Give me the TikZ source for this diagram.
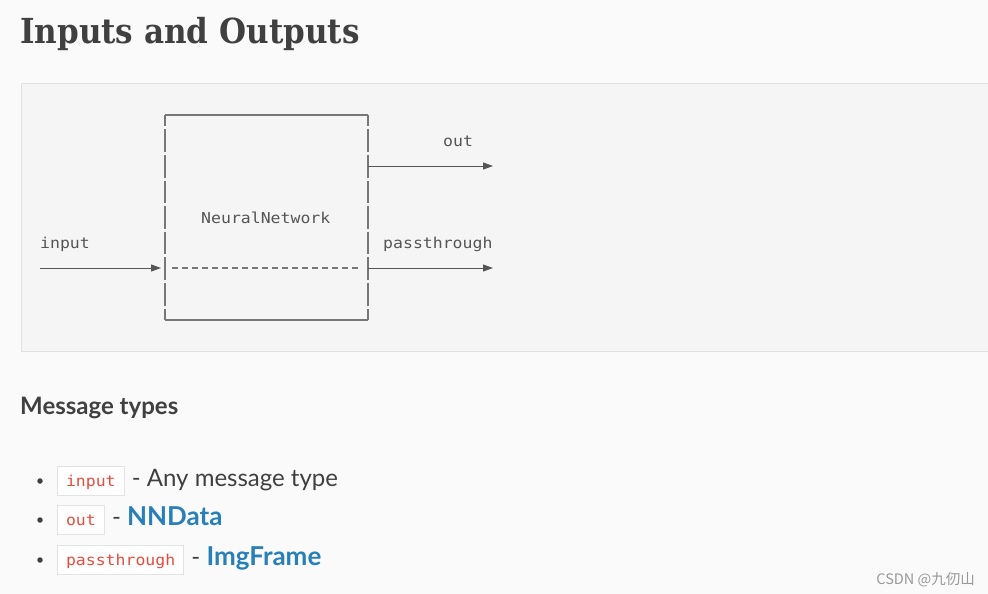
\documentclass[tikz,border=0pt]{standalone}
\usepackage{fontspec}
\usepackage{graphicx}
\usetikzlibrary{positioning,arrows.meta}

\setmainfont{Lato}
\newfontfamily\slabfont{DejaVu Serif}
\newfontfamily\monofont[FakeStretch=1.1]{DejaVu Sans Mono}
\newfontfamily\cjkfont{Noto Sans CJK SC}

\definecolor{pagebg}{HTML}{FAFAFA}
\definecolor{codebg}{HTML}{F5F5F5}
\definecolor{codeborder}{HTML}{E1E1E1}
\definecolor{headcol}{HTML}{404040}
\definecolor{asciitext}{HTML}{555555}
\definecolor{boxline}{HTML}{777777}
\definecolor{codered}{HTML}{E74C3C}
\definecolor{linkblue}{HTML}{2980B9}
\definecolor{inlineborder}{HTML}{E1E4E5}
\definecolor{markgray}{HTML}{999999}

\newcommand{\linkword}[1]{{\fontsize{26}{30}\selectfont\bfseries\textcolor{linkblue}{#1}}}

\tikzset{
  heading/.style={anchor=base west,inner sep=0pt,text=headcol},
  asciilabel/.style={anchor=base west,inner sep=0pt,text=asciitext,
    font=\monofont\fontsize{15}{18}\selectfont},
  boxedge/.style={draw=boxline,line width=1.2pt},
  sidedash/.style={boxedge,dash pattern=on 22.6pt off 3pt,dash phase=11.3pt},
  flow/.style={draw=asciitext,line width=1pt,
    -{Triangle[length=10pt,width=7pt]}},
  codebox/.style={draw=inlineborder,fill=white,line width=1pt,anchor=west,
    inner xsep=8.5pt,inner ysep=0pt,minimum height=29.5pt,
    text height=11.5pt,text depth=0pt,text=codered,
    font=\monofont\fontsize{15}{18}\selectfont},
  itemtext/.style={anchor=base west,inner sep=0pt,text=headcol,
    font=\fontsize{24}{28}\selectfont},
  bulletdot/.style={circle,fill=headcol,inner sep=0pt,minimum size=5.5pt}
}

\begin{document}
\begin{tikzpicture}[x=1pt,y=-1pt]
\useasboundingbox (0,0) rectangle (988,594);
\fill[pagebg] (0,0) rectangle (988,594);

% heading
\node[heading,font=\slabfont\bfseries\fontsize{34.5}{40}\selectfont] (title) at (20,44)
  {\scalebox{0.9}[1]{Inputs and Outputs}};

% code block
\draw[codeborder,fill=codebg,line width=1pt] (21,83.5) rectangle (1010,351);

% ascii box of the NeuralNetwork node
\coordinate (nn-nw) at (165,115);
\coordinate (nn-ne) at (368,115);
\coordinate (nn-sw) at (165,320);
\coordinate (nn-se) at (368,320);
\coordinate (nn-in) at (165,268);
\coordinate (nn-out) at (368,166);
\coordinate (nn-pass) at (368,268);
\draw[boxedge] (nn-nw) -- (nn-ne);
\draw[boxedge] (nn-sw) -- (nn-se);
\draw[sidedash] (nn-nw) -- (nn-sw);
\draw[sidedash] (nn-ne) -- (nn-se);
\draw[boxedge,dash pattern=on 6pt off 4pt] ([xshift=7pt]nn-in) -- ([xshift=-7pt]nn-pass);

\node[asciilabel] (nn) at (201,223) {NeuralNetwork};

% inputs and outputs
\coordinate (in-tail) at (40,268);
\coordinate (out-head) at (493,166);
\coordinate (pass-head) at (493,268);
\draw[flow,shorten >=4pt] (in-tail) -- (nn-in);
\draw[flow] (nn-out) -- (out-head);
\draw[flow] (nn-pass) -- (pass-head);

\node[asciilabel] (lbl-in) at (40,248) {input};
\node[asciilabel] (lbl-out) at (443,146) {out};
\node[asciilabel] (lbl-pass) at (383,248) {passthrough};

% message types
\node[heading,font=\bfseries\fontsize{24}{28}\selectfont] (msg) at (20,414.5) {Message types};

\node[bulletdot] (dot-in) at (40,481) {};
\node[bulletdot] (dot-out) at (40,520) {};
\node[bulletdot] (dot-pass) at (40,560) {};

\node[codebox] (c-in) at (57,481) {input};
\node[codebox] (c-out) at (57,520) {out};
\node[codebox] (c-pass) at (57,560) {passthrough};

\node[itemtext,right=7pt of c-in.base east,anchor=base west] (t-in) {- Any message type};
\node[itemtext,right=7pt of c-out.base east,anchor=base west] (t-out) {- \linkword{NNData}};
\node[itemtext,right=7pt of c-pass.base east,anchor=base west] (t-pass) {- \linkword{ImgFrame}};

% watermark
\node[anchor=base east,inner sep=0pt,text=markgray,font=\cjkfont\fontsize{14.5}{17}\selectfont]
  (mark) at (975,584) {CSDN @九仞山};
\end{tikzpicture}
\end{document}
